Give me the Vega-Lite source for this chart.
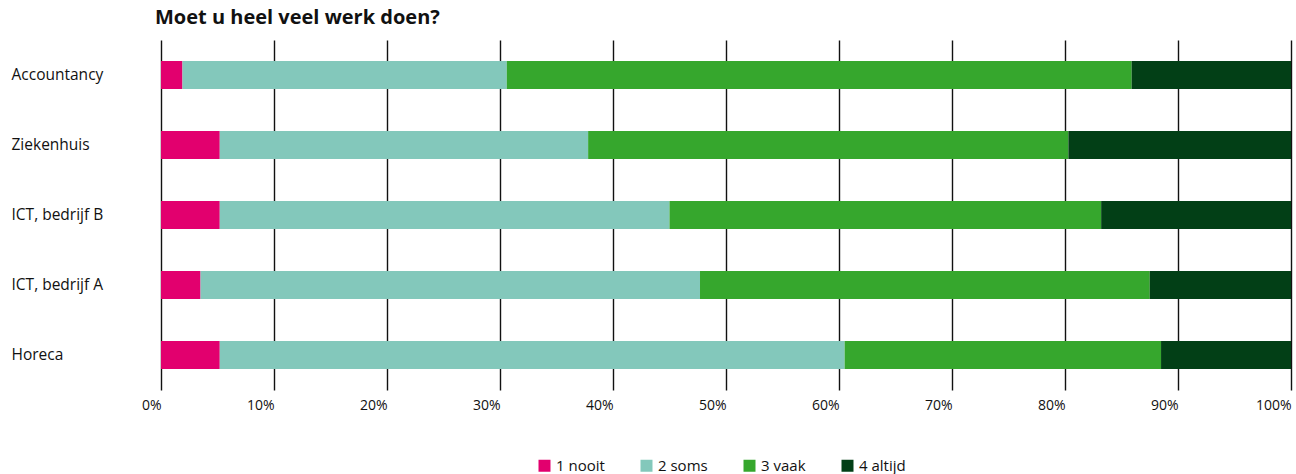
{
  "$schema": "https://vega.github.io/schema/vega-lite/v6.json",
  "width": 1130,
  "height": 350,
  "autosize": {"type": "none"},
  "padding": {"left": 161, "top": 40, "right": 5, "bottom": 84},
  "background": "white",
  "title": {
    "text": "Moet u heel veel werk doen?",
    "anchor": "start",
    "frame": "group",
    "dx": -6,
    "offset": 12,
    "font": "Open Sans",
    "fontSize": 20,
    "fontWeight": "bold",
    "color": "#111111"
  },
  "data": {
    "values": [
      {"sector": "Accountancy", "antwoord": "1 nooit", "volgorde": 1, "pct": 1.9},
      {"sector": "Accountancy", "antwoord": "2 soms", "volgorde": 2, "pct": 28.7},
      {"sector": "Accountancy", "antwoord": "3 vaak", "volgorde": 3, "pct": 55.3},
      {"sector": "Accountancy", "antwoord": "4 altijd", "volgorde": 4, "pct": 14.1},
      {"sector": "Ziekenhuis", "antwoord": "1 nooit", "volgorde": 1, "pct": 5.2},
      {"sector": "Ziekenhuis", "antwoord": "2 soms", "volgorde": 2, "pct": 32.6},
      {"sector": "Ziekenhuis", "antwoord": "3 vaak", "volgorde": 3, "pct": 42.5},
      {"sector": "Ziekenhuis", "antwoord": "4 altijd", "volgorde": 4, "pct": 19.7},
      {"sector": "ICT, bedrijf B", "antwoord": "1 nooit", "volgorde": 1, "pct": 5.2},
      {"sector": "ICT, bedrijf B", "antwoord": "2 soms", "volgorde": 2, "pct": 39.8},
      {"sector": "ICT, bedrijf B", "antwoord": "3 vaak", "volgorde": 3, "pct": 38.2},
      {"sector": "ICT, bedrijf B", "antwoord": "4 altijd", "volgorde": 4, "pct": 16.8},
      {"sector": "ICT, bedrijf A", "antwoord": "1 nooit", "volgorde": 1, "pct": 3.5},
      {"sector": "ICT, bedrijf A", "antwoord": "2 soms", "volgorde": 2, "pct": 44.2},
      {"sector": "ICT, bedrijf A", "antwoord": "3 vaak", "volgorde": 3, "pct": 39.8},
      {"sector": "ICT, bedrijf A", "antwoord": "4 altijd", "volgorde": 4, "pct": 12.5},
      {"sector": "Horeca", "antwoord": "1 nooit", "volgorde": 1, "pct": 5.2},
      {"sector": "Horeca", "antwoord": "2 soms", "volgorde": 2, "pct": 55.3},
      {"sector": "Horeca", "antwoord": "3 vaak", "volgorde": 3, "pct": 28.0},
      {"sector": "Horeca", "antwoord": "4 altijd", "volgorde": 4, "pct": 11.5}
    ]
  },
  "mark": {"type": "bar"},
  "encoding": {
    "y": {
      "field": "sector",
      "type": "nominal",
      "sort": ["Accountancy", "Ziekenhuis", "ICT, bedrijf B", "ICT, bedrijf A", "Horeca"],
      "scale": {"paddingInner": 0.6, "paddingOuter": 0.3},
      "axis": {
        "title": null,
        "domain": false,
        "ticks": false,
        "tickSize": 0,
        "labelAlign": "left",
        "labelPadding": 150,
        "labelDy": 2,
        "labelFont": "Open Sans",
        "labelFontSize": 15.5,
        "labelColor": "#111111"
      }
    },
    "x": {
      "field": "pct",
      "type": "quantitative",
      "stack": "normalize",
      "scale": {"domain": [0, 1], "nice": false},
      "axis": {
        "title": null,
        "format": ".0%",
        "values": [0, 0.1, 0.2, 0.3, 0.4, 0.5, 0.6, 0.7, 0.8, 0.9, 1],
        "domain": false,
        "ticks": false,
        "tickSize": 0,
        "grid": true,
        "gridColor": "#111111",
        "gridWidth": 1.4,
        "gridOpacity": 1,
        "labelAlign": "right",
        "labelDx": 2,
        "labelPadding": 8,
        "labelFont": "Open Sans",
        "labelFontSize": 14,
        "labelColor": "#111111"
      }
    },
    "color": {
      "field": "antwoord",
      "type": "nominal",
      "scale": {
        "domain": ["1 nooit", "2 soms", "3 vaak", "4 altijd"],
        "range": ["#e2006e", "#83c8bb", "#36a72d", "#023f16"]
      },
      "legend": {
        "title": null,
        "orient": "none",
        "direction": "horizontal",
        "legendX": 376,
        "legendY": 418,
        "symbolType": "square",
        "symbolSize": 144,
        "symbolStrokeWidth": 0,
        "symbolOpacity": 1,
        "labelOffset": 4,
        "columnPadding": 34,
        "labelFont": "Open Sans",
        "labelFontSize": 15,
        "labelColor": "#111111"
      }
    },
    "order": {"field": "volgorde", "type": "quantitative"}
  },
  "config": {"view": {"stroke": null}}
}
